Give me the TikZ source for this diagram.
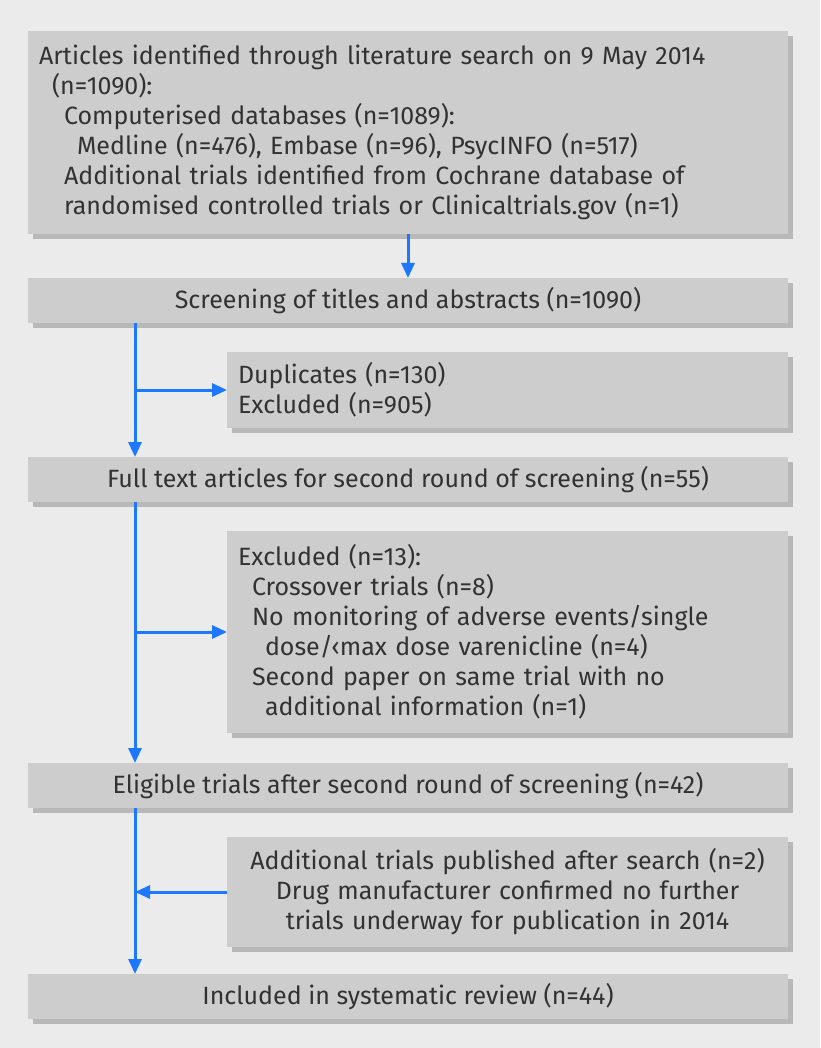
\documentclass[tikz,border=0pt]{standalone}
\usepackage{fontspec}
\setmainfont{Fira Sans}
\usetikzlibrary{arrows.meta, shadows}
\definecolor{bggray}{RGB}{235,235,235}
\definecolor{boxgray}{RGB}{205,205,205}
\definecolor{shadegray}{RGB}{184,184,184}
\definecolor{txtgray}{RGB}{50,50,50}
\definecolor{flowblue}{RGB}{30,120,255}

\begin{document}
\begin{tikzpicture}[x=1pt, y=-1pt,
  font=\fontsize{25pt}{30pt}\selectfont,
  box/.style={anchor=north west, fill=boxgray, text=txtgray,
    inner xsep=11pt, inner ysep=0pt, outer sep=0pt,
    general shadow={fill=shadegray, shadow xshift=5pt, shadow yshift=-5pt}},
  widebox/.style={box, minimum width=760pt, minimum height=45pt, align=center},
  sidebox/.style={box, minimum width=561pt, text width=539pt},
  flow/.style={draw=flowblue, line width=3pt,
    -{Triangle[length=15pt, width=13pt, fill=flowblue]}}]

  % background
  \fill[bggray] (0,0) rectangle (820,1048);

  % main column
  \node[box, minimum width=760pt, minimum height=203pt, text width=738pt,
    align=left] (search) at (28,31)
    {Articles identified through literature search on 9 May 2014\\
     \hspace*{13pt}(n=1090):\\
     \hspace*{25pt}Computerised databases (n=1089):\\
     \hspace*{38pt}Medline (n=476), Embase (n=96), PsycINFO (n=517)\\
     \hspace*{25pt}Additional trials identified from Cochrane database of\\
     \hspace*{25pt}randomised controlled trials or Clinicaltrials.gov (n=1)};
  \node[widebox] (screen) at (28,278) {Screening of titles and abstracts (n=1090)};
  \node[widebox] (fulltext) at (28,457)
    {Full text articles for second round of screening (n=55)};
  \node[widebox] (eligible) at (28,763)
    {Eligible trials after second round of screening (n=42)};
  \node[widebox] (incl) at (28,974) {Included in systematic review (n=44)};

  % side boxes
  \node[sidebox, minimum height=76pt, align=left] (dupl) at (227,352)
    {Duplicates (n=130)\\Excluded (n=905)};
  \node[sidebox, minimum height=202pt, align=left] (excl) at (227,531)
    {Excluded (n=13):\\
     \hspace*{14pt}Crossover trials (n=8)\\
     \hspace*{14pt}No monitoring of adverse events/single\\
     \hspace*{27pt}dose/‹max dose varenicline (n=4)\\
     \hspace*{14pt}Second paper on same trial with no\\
     \hspace*{27pt}additional information (n=1)};
  \node[sidebox, minimum height=110pt, align=center] (addtl) at (227,837)
    {Additional trials published after search (n=2)\\
     Drug manufacturer confirmed no further\\
     trials underway for publication in 2014};

  % arrows
  \draw[flow] (search.south) -- (screen.north);
  \foreach \boxa/\boxb [count=\i] in {screen/fulltext, fulltext/eligible, eligible/incl}
  {
    \coordinate (tr\i) at ([xshift=107pt]\boxa.south west);
    \draw[flow] (tr\i) -- (tr\i |- \boxb.north);
  }
  \draw[flow] (tr1 |- dupl.west) -- (dupl.west);
  \draw[flow] (tr2 |- excl.west) -- (excl.west);
  \draw[flow] (addtl.west) -- (tr3 |- addtl.west);

\end{tikzpicture}
\end{document}
